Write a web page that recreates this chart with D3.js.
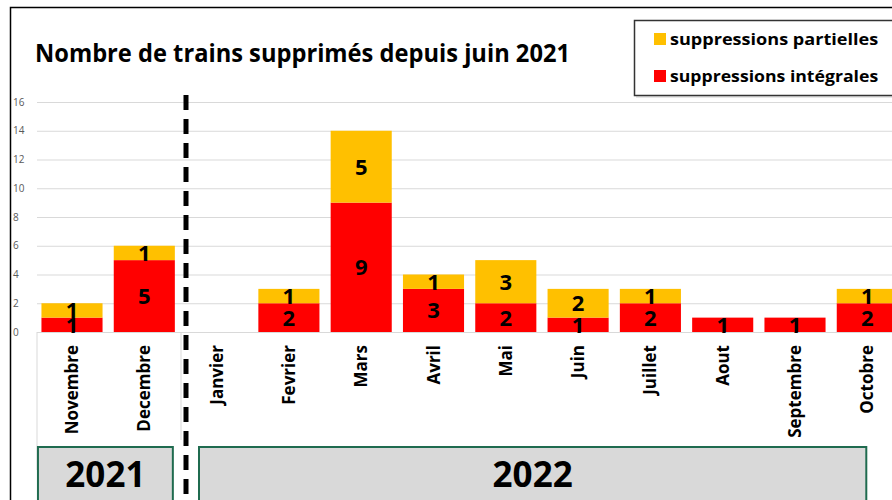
<!DOCTYPE html>
<html>
<head>
<meta charset="utf-8">
<script src="https://cdn.jsdelivr.net/npm/d3@7"></script>
<style>
  body { margin: 0; background: #fff; }
  svg text { font-family: "Open Sans", sans-serif; }
</style>
</head>
<body>
<div id="chart"></div>
<script>
// chart data
const months = ["Novembre", "Decembre", "Janvier", "Fevrier", "Mars", "Avril",
                "Mai", "Juin", "Juillet", "Aout", "Septembre", "Octobre"]
const integrales = [1, 5, 0, 2, 9, 3, 2, 1, 2, 1, 1, 2]
const partielles = [1, 1, 0, 1, 5, 1, 3, 2, 1, 0, 0, 1]
const yTicks = [0, 2, 4, 6, 8, 10, 12, 14, 16]
const years = ["2021", "2022"]
const seriesNames = ["suppressions partielles", "suppressions intégrales"]

const width = 892
const height = 500
const colors = {integrales: "#ff0000", partielles: "#ffc000"}

let svg = d3.select("#chart")
    .append("svg")
    .attr("width", width)
    .attr("height", height)

let x = d3.scaleBand()
    .domain(months)
    .range([35.85, 903.45])
    .paddingInner(0.155)
    .paddingOuter(0.0775)

let y = d3.scaleLinear()
    .domain([0, 16])
    .range([332, 102])

// outer frame (cropped on the right and bottom)
svg.append("path")
    .attr("d", `M10.5,${height} V7.5 H${width}`)
    .attr("fill", "none")
    .attr("stroke", "#000")
    .attr("stroke-width", 1.5)

// gridlines
svg.append("g")
    .selectAll("line")
    .data(yTicks)
    .enter()
    .append("line")
    .attr("x1", 37)
    .attr("x2", width)
    .attr("y1", d => y(d) + 0.5)
    .attr("y2", d => y(d) + 0.5)
    .attr("stroke", "#d9d9d9")
    .attr("stroke-width", 1)

// y tick labels
svg.append("g")
    .selectAll("text")
    .data(yTicks)
    .enter()
    .append("text")
    .attr("x", 13)
    .attr("y", d => y(d) + 3.5)
    .attr("font-size", 10)
    .attr("fill", "#595959")
    .text(d => d)

// light separators under the axis
svg.append("g")
    .selectAll("line")
    .data([[37, 470], [181, 440]])
    .enter()
    .append("line")
    .attr("x1", d => d[0])
    .attr("x2", d => d[0])
    .attr("y1", 332)
    .attr("y2", d => d[1])
    .attr("stroke", "#d9d9d9")

// stacked bars
let table = months.map((m, i) => ({month: m, integrales: integrales[i], partielles: partielles[i]}))
let stacked = d3.stack().keys(["integrales", "partielles"])(table)

let layers = svg.append("g")
    .selectAll("g")
    .data(stacked)
    .enter()
    .append("g")
    .attr("fill", d => colors[d.key])

layers.selectAll("rect")
    .data(d => d.filter(s => s[1] > s[0]))
    .enter()
    .append("rect")
    .attr("x", d => x(d.data.month))
    .attr("width", x.bandwidth())
    .attr("y", d => y(d[1]))
    .attr("height", d => y(d[0]) - y(d[1]))

layers.selectAll("text")
    .data(d => d.filter(s => s[1] > s[0]))
    .enter()
    .append("text")
    .attr("x", d => x(d.data.month) + x.bandwidth() / 2)
    .attr("y", d => (y(d[0]) + y(d[1])) / 2 + 8)
    .attr("text-anchor", "middle")
    .attr("font-size", 22)
    .attr("font-weight", 700)
    .attr("fill", "#000")
    .text(d => d[1] - d[0])

// month labels, rotated
svg.append("g")
    .selectAll("text")
    .data(months)
    .enter()
    .append("text")
    .attr("transform", d => `translate(${x(d) + x.bandwidth() / 2 + 6},345) rotate(-90)`)
    .attr("text-anchor", "end")
    .attr("font-size", 17)
    .attr("font-weight", 700)
    .attr("fill", "#000")
    .text(d => d)

// year boxes
let yearBoxes = svg.append("g")
    .selectAll("g")
    .data(years)
    .enter()
    .append("g")

let boxSpan = (d, i) => i === 0
    ? [x("Novembre") - 3.5, x("Decembre") + x.bandwidth() - 2]
    : [199, x("Octobre") + x.bandwidth() / 2 - 1]

yearBoxes.append("rect")
    .attr("x", (d, i) => boxSpan(d, i)[0])
    .attr("width", (d, i) => boxSpan(d, i)[1] - boxSpan(d, i)[0])
    .attr("y", 447)
    .attr("height", 60)
    .attr("fill", "#d9d9d9")
    .attr("stroke", "#1f6b4f")
    .attr("stroke-width", 2)

yearBoxes.append("text")
    .attr("x", (d, i) => (boxSpan(d, i)[0] + boxSpan(d, i)[1]) / 2)
    .attr("y", 487)
    .attr("text-anchor", "middle")
    .attr("font-size", 35)
    .attr("font-weight", 700)
    .attr("fill", "#000")
    .text(d => d)

// dashed separator between years
svg.append("line")
    .attr("x1", 186)
    .attr("x2", 186)
    .attr("y1", 95)
    .attr("y2", height)
    .attr("stroke", "#000")
    .attr("stroke-width", 5)
    .attr("stroke-dasharray", "15,9")

// title
svg.append("text")
    .attr("x", 35)
    .attr("y", 62)
    .attr("font-size", 25)
    .attr("font-weight", 700)
    .attr("fill", "#000")
    .attr("textLength", 535)
    .attr("lengthAdjust", "spacingAndGlyphs")
    .text("Nombre de trains supprimés depuis juin 2021")

// legend
let legend = svg.append("g")
legend.append("rect")
    .attr("x", 636)
    .attr("y", 22)
    .attr("width", 260)
    .attr("height", 76)
    .attr("fill", "#e6e6e6")
legend.append("rect")
    .attr("x", 634.5)
    .attr("y", 20.5)
    .attr("width", 260)
    .attr("height", 75)
    .attr("fill", "#fff")
    .attr("stroke", "#333")
    .attr("stroke-width", 1.5)

let legendItems = legend.selectAll("g.item")
    .data(seriesNames)
    .enter()
    .append("g")
    .attr("class", "item")
    .attr("transform", (d, i) => `translate(654,${33 + i * 37})`)

legendItems.append("rect")
    .attr("width", 12)
    .attr("height", 12)
    .attr("fill", (d, i) => i === 0 ? colors.partielles : colors.integrales)

legendItems.append("text")
    .attr("x", 16)
    .attr("y", 12)
    .attr("font-size", 16)
    .attr("font-weight", 700)
    .attr("fill", "#000")
    .attr("textLength", d => d.length * 9.05)
    .attr("lengthAdjust", "spacingAndGlyphs")
    .text(d => d)
</script>
</body>
</html>
